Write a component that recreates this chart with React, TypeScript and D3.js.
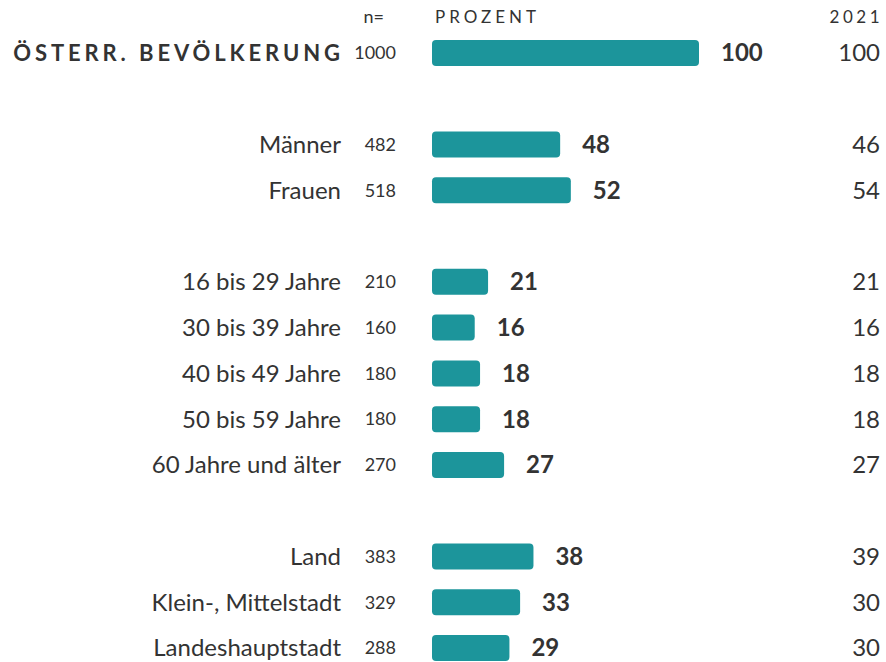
import React from "react";
import * as d3 from "d3";

const categories = [
  "ÖSTERR. BEVÖLKERUNG",
  "Männer",
  "Frauen",
  "16 bis 29 Jahre",
  "30 bis 39 Jahre",
  "40 bis 49 Jahre",
  "50 bis 59 Jahre",
  "60 Jahre und älter",
  "Land",
  "Klein-, Mittelstadt",
  "Landeshauptstadt",
];
const slots = [0, 2, 3, 5, 6, 7, 8, 9, 11, 12, 13];
const nValues = [1000, 482, 518, 210, 160, 180, 180, 270, 383, 329, 288];
const values = [100, 48, 52, 21, 16, 18, 18, 27, 38, 33, 29];
const values2021 = [100, 46, 54, 21, 16, 18, 18, 27, 39, 30, 30];

const W = 886;
const H = 662;
const FONT = "Lato, 'Open Sans', sans-serif";
const TEXT = "#333333";
const BAR = "#1c959b";

export default function App() {
  const x = d3.scaleLinear().domain([0, 100]).range([432, 699]);
  const y = d3.scaleLinear().domain([0, 13]).range([53, 648]);
  const barH = 26;

  return (
    <svg
      width={W}
      height={H}
      style={{ position: "absolute", left: 0, top: 0, background: "#fff" }}
      fontFamily={FONT}
    >
      <text x={384} y={23} fontSize={18} fill={TEXT} textAnchor="end">n=</text>
      <text x={435} y={23} fontSize={17} fill={TEXT} letterSpacing={4}>PROZENT</text>
      <text x={883} y={23} fontSize={17} fill={TEXT} textAnchor="end" letterSpacing={3.5}>2021</text>
      {categories.map((c, i) => {
        const cy = y(slots[i]);
        const first = i === 0;
        return (
          <g key={c}>
            <text
              x={first ? 344 : 341}
              y={cy}
              dy="0.35em"
              fontSize={first ? 22 : 24}
              fontWeight={first ? 700 : 400}
              letterSpacing={first ? 3.9 : 0}
              fill={TEXT}
              textAnchor="end"
            >
              {c}
            </text>
            <text x={396} y={cy} dy="0.35em" fontSize={18} fill={TEXT} textAnchor="end">
              {nValues[i]}
            </text>
            <rect
              x={x(0)}
              y={cy - barH / 2}
              width={x(values[i]) - x(0)}
              height={barH}
              rx={4}
              ry={4}
              fill={BAR}
            />
            <text
              x={x(values[i]) + 22}
              y={cy}
              dy="0.35em"
              fontSize={24}
              fontWeight={700}
              fill={TEXT}
            >
              {values[i]}
            </text>
            <text x={880} y={cy} dy="0.35em" fontSize={24} fill={TEXT} textAnchor="end">
              {values2021[i]}
            </text>
          </g>
        );
      })}
    </svg>
  );
}
